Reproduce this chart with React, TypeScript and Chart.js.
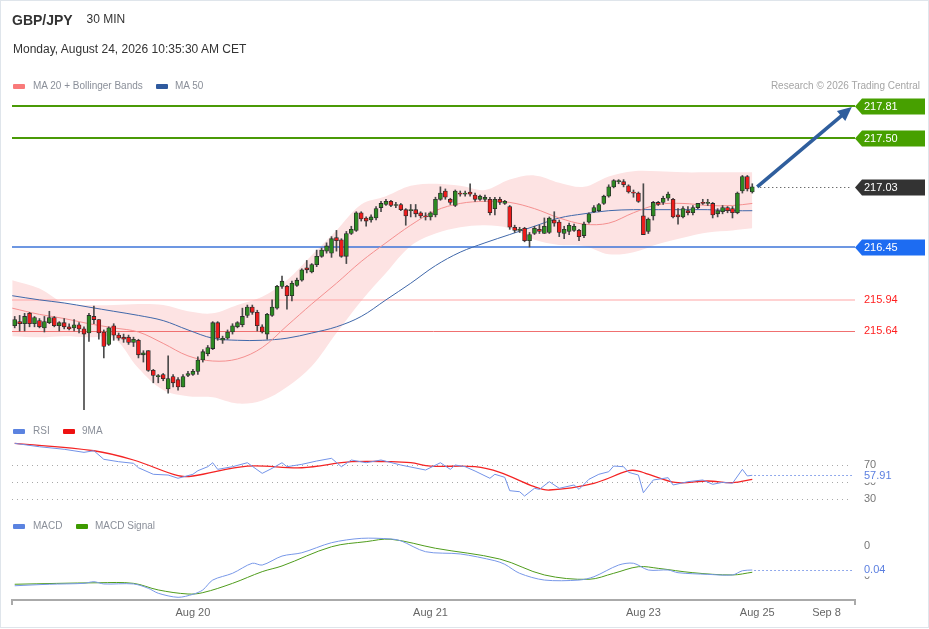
import React, { useEffect, useRef } from "react";
import { Chart, registerables } from "chart.js";

Chart.register(...registerables);

const FONT = '"Liberation Sans", Arial, Helvetica, sans-serif';

// ---------- DATA ----------
// candles: [open, high, low, close], 30-minute bars
const candles: number[][] = [
  [215.69, 215.78, 215.67, 215.75], [215.73, 215.79, 215.64, 215.71], [215.71, 215.81, 215.64, 215.78],
  [215.81, 215.82, 215.68, 215.71], [215.71, 215.78, 215.68, 215.77], [215.74, 215.76, 215.67, 215.68],
  [215.67, 215.78, 215.63, 215.73], [215.72, 215.83, 215.71, 215.77], [215.77, 215.78, 215.68, 215.69],
  [215.69, 215.73, 215.64, 215.72], [215.72, 215.76, 215.66, 215.68], [215.68, 215.71, 215.65, 215.66],
  [215.67, 215.75, 215.64, 215.70], [215.70, 215.72, 215.62, 215.66], [215.66, 215.68, 214.88, 215.61],
  [215.62, 215.81, 215.54, 215.79], [215.78, 215.88, 215.71, 215.75], [215.75, 215.75, 215.56, 215.62],
  [215.63, 215.65, 215.38, 215.49], [215.51, 215.68, 215.50, 215.67], [215.69, 215.71, 215.55, 215.60],
  [215.60, 215.62, 215.55, 215.57], [215.58, 215.61, 215.53, 215.56], [215.58, 215.60, 215.51, 215.53],
  [215.53, 215.58, 215.49, 215.56], [215.55, 215.56, 215.38, 215.41], [215.41, 215.45, 215.34, 215.43],
  [215.45, 215.45, 215.25, 215.26], [215.26, 215.27, 215.14, 215.21], [215.20, 215.22, 215.14, 215.21],
  [215.22, 215.23, 215.16, 215.18], [215.08, 215.40, 215.04, 215.18], [215.20, 215.22, 215.10, 215.14],
  [215.17, 215.19, 215.07, 215.10], [215.10, 215.22, 215.10, 215.20], [215.21, 215.25, 215.20, 215.23],
  [215.22, 215.27, 215.21, 215.25], [215.25, 215.39, 215.22, 215.36], [215.36, 215.46, 215.34, 215.44],
  [215.42, 215.50, 215.40, 215.48], [215.47, 215.73, 215.46, 215.72], [215.72, 215.73, 215.55, 215.57],
  [215.55, 215.59, 215.52, 215.57], [215.57, 215.65, 215.56, 215.63], [215.63, 215.71, 215.61, 215.69],
  [215.68, 215.73, 215.67, 215.72], [215.70, 215.86, 215.68, 215.78], [215.79, 215.89, 215.77, 215.87],
  [215.87, 215.89, 215.80, 215.82], [215.82, 215.84, 215.64, 215.69], [215.68, 215.70, 215.62, 215.63],
  [215.61, 215.81, 215.56, 215.80], [215.79, 215.94, 215.78, 215.87], [215.86, 216.08, 215.85, 216.07],
  [216.07, 216.17, 216.05, 216.12], [216.07, 216.08, 215.85, 215.98], [215.98, 216.12, 215.93, 216.10],
  [216.08, 216.15, 216.07, 216.13], [216.13, 216.24, 216.12, 216.23], [216.25, 216.32, 216.20, 216.23],
  [216.21, 216.29, 216.20, 216.28], [216.28, 216.42, 216.26, 216.36], [216.36, 216.44, 216.35, 216.42],
  [216.41, 216.49, 216.39, 216.46], [216.39, 216.55, 216.35, 216.53], [216.54, 216.61, 216.41, 216.51],
  [216.52, 216.53, 216.35, 216.36], [216.36, 216.60, 216.29, 216.58], [216.58, 216.65, 216.57, 216.62],
  [216.61, 216.79, 216.60, 216.78], [216.78, 216.79, 216.70, 216.72], [216.73, 216.74, 216.65, 216.70],
  [216.71, 216.76, 216.69, 216.74], [216.73, 216.84, 216.71, 216.82], [216.83, 216.89, 216.79, 216.87],
  [216.86, 216.91, 216.85, 216.89], [216.89, 216.90, 216.84, 216.85], [216.85, 216.88, 216.83, 216.86],
  [216.86, 216.87, 216.80, 216.81], [216.81, 216.82, 216.66, 216.75], [216.80, 216.86, 216.74, 216.81],
  [216.81, 216.86, 216.74, 216.77], [216.78, 216.79, 216.73, 216.75], [216.75, 216.78, 216.71, 216.74],
  [216.74, 216.79, 216.71, 216.78], [216.76, 216.93, 216.74, 216.91], [216.91, 217.03, 216.90, 216.97],
  [216.99, 217.01, 216.91, 216.93], [216.91, 216.92, 216.86, 216.88], [216.85, 217.00, 216.84, 216.99],
  [216.97, 216.99, 216.94, 216.96], [216.96, 216.99, 216.94, 216.97], [216.98, 217.06, 216.94, 216.96],
  [216.95, 216.97, 216.89, 216.91], [216.91, 216.95, 216.90, 216.94], [216.91, 216.95, 216.89, 216.93],
  [216.91, 216.93, 216.76, 216.78], [216.82, 216.93, 216.76, 216.91], [216.91, 216.93, 216.86, 216.88],
  [216.87, 216.90, 216.86, 216.89], [216.84, 216.85, 216.62, 216.64], [216.64, 216.66, 216.59, 216.61],
  [216.61, 216.64, 216.59, 216.62], [216.63, 216.64, 216.50, 216.51], [216.51, 216.59, 216.45, 216.57],
  [216.58, 216.65, 216.57, 216.63], [216.62, 216.66, 216.58, 216.60], [216.58, 216.73, 216.58, 216.65],
  [216.59, 216.74, 216.58, 216.73], [216.71, 216.79, 216.65, 216.68], [216.69, 216.71, 216.55, 216.59],
  [216.58, 216.65, 216.53, 216.62], [216.60, 216.68, 216.57, 216.66], [216.61, 216.67, 216.60, 216.65],
  [216.61, 216.62, 216.51, 216.55], [216.56, 216.69, 216.54, 216.67], [216.69, 216.78, 216.68, 216.77],
  [216.79, 216.85, 216.78, 216.83], [216.80, 216.87, 216.79, 216.86], [216.87, 216.95, 216.86, 216.94],
  [216.94, 217.05, 216.93, 217.03], [217.03, 217.10, 217.02, 217.09], [217.08, 217.10, 217.06, 217.09],
  [217.08, 217.10, 217.03, 217.05], [217.04, 217.05, 216.97, 216.98], [216.98, 217.00, 216.93, 216.97],
  [216.97, 216.98, 216.88, 216.89], [216.75, 217.06, 216.57, 216.57], [216.60, 216.73, 216.58, 216.72],
  [216.75, 216.89, 216.71, 216.88], [216.88, 216.89, 216.85, 216.86], [216.88, 216.94, 216.86, 216.92],
  [216.92, 216.98, 216.90, 216.96], [216.91, 216.92, 216.73, 216.74], [216.76, 216.82, 216.67, 216.74],
  [216.74, 216.84, 216.73, 216.82], [216.80, 216.84, 216.76, 216.78], [216.78, 216.85, 216.76, 216.83],
  [216.83, 216.87, 216.82, 216.87], [216.88, 216.91, 216.86, 216.87], [216.87, 216.91, 216.85, 216.88],
  [216.87, 216.88, 216.73, 216.76], [216.77, 216.82, 216.74, 216.80], [216.79, 216.85, 216.77, 216.83],
  [216.83, 216.84, 216.78, 216.80], [216.82, 216.84, 216.73, 216.78], [216.78, 216.98, 216.77, 216.97],
  [216.99, 217.14, 216.97, 217.13], [217.13, 217.14, 216.99, 217.01], [216.98, 217.06, 216.97, 217.03],
];

// indicator samples (bar index -> value)
const bandIdx = [-0.5, 5, 10, 15, 20, 25, 30, 35, 40, 45, 50, 55, 60, 65, 70, 75, 80, 85, 90, 95, 100, 105, 110, 115, 120, 125, 130, 135, 140, 145, 149];
const ma20 = [215.86, 215.80, 215.76, 215.71, 215.67, 215.63, 215.52, 215.40, 215.35, 215.37, 215.48, 215.69, 215.90, 216.10, 216.31, 216.49, 216.66, 216.80, 216.87, 216.89, 216.88, 216.82, 216.73, 216.67, 216.68, 216.78, 216.86, 216.87, 216.85, 216.85, 216.87];
const ma50 = [215.98, 215.94, 215.91, 215.87, 215.83, 215.79, 215.74, 215.65, 215.57, 215.55, 215.55, 215.57, 215.62, 215.68, 215.78, 215.94, 216.10, 216.27, 216.40, 216.49, 216.57, 216.65, 216.73, 216.77, 216.80, 216.81, 216.81, 216.81, 216.81, 216.80, 216.80];
const bbUpper = [216.13, 216.05, 215.91, 215.89, 215.89, 215.90, 215.89, 215.83, 215.81, 215.89, 215.97, 216.13, 216.37, 216.61, 216.86, 216.94, 217.04, 217.06, 217.04, 217.00, 217.10, 217.14, 217.07, 217.03, 217.13, 217.18, 217.18, 217.17, 217.17, 217.17, 217.17];
const bbLower = [215.59, 215.58, 215.59, 215.58, 215.57, 215.28, 215.07, 215.01, 215.00, 214.94, 214.97, 215.10, 215.30, 215.62, 215.93, 216.20, 216.46, 216.58, 216.64, 216.66, 216.63, 216.52, 216.47, 216.46, 216.38, 216.40, 216.48, 216.54, 216.59, 216.61, 216.63];

const rsiIdx = [0, 5, 10, 14, 16, 18, 21, 24, 25, 28, 31, 33, 36, 37, 39, 40, 41, 44, 47, 50, 52, 54, 55, 58, 61, 64, 66, 68, 71, 74, 78, 83, 86, 88, 89, 91, 93, 96, 97, 99, 100, 102, 103, 105, 106, 108, 110, 113, 114, 116, 118, 120, 121, 123, 124, 126, 127, 129, 132, 133, 136, 139, 141, 143, 145, 147, 148, 149];
const rsiVals = [95.5, 91.5, 88.5, 84.9, 86.8, 76.7, 73.9, 72.0, 66.8, 59.1, 58.2, 54.4, 59.1, 63.3, 68.0, 72.7, 64.9, 68.0, 72.7, 60.2, 66.1, 72.7, 68.0, 70.8, 74.7, 77.9, 68.0, 75.9, 72.7, 75.9, 70.0, 64.1, 72.7, 64.9, 70.0, 68.0, 62.9, 54.4, 59.1, 55.5, 39.8, 38.6, 33.5, 42.6, 41.4, 50.4, 42.6, 46.5, 41.4, 53.2, 59.1, 62.1, 68.8, 68.0, 61.4, 58.2, 37.4, 52.4, 55.1, 46.5, 50.4, 52.4, 47.3, 49.6, 48.5, 64.9, 57.1, 57.91];
const rsiMaIdx = [0, 16, 24, 33, 36, 47, 58, 68, 76, 80, 84, 93, 98, 105, 108, 117, 124, 126, 130, 134, 140, 145, 149];
const rsiMaVals = [95.5, 86.8, 75.9, 57.4, 57.1, 68.8, 66.8, 73.9, 73.9, 72.7, 68.8, 68.0, 61.4, 44.5, 40.6, 48.5, 63.3, 62.9, 55.1, 49.2, 51.2, 49.2, 53.2];
const rsiLevels = [70, 50, 30];

const macdIdx = [0, 7, 14, 16, 18, 24, 27, 29, 33, 36, 38, 40, 44, 48, 50, 54, 58, 64, 70, 76, 78, 83, 90, 97, 99, 102, 107, 114, 117, 122, 125, 128, 132, 134, 140, 145, 147, 149];
const macdVals = [-0.065, -0.055, -0.049, -0.038, -0.053, -0.053, -0.082, -0.115, -0.142, -0.122, -0.093, -0.027, 0.018, 0.085, 0.073, 0.133, 0.155, 0.222, 0.251, 0.247, 0.235, 0.162, 0.147, 0.102, 0.078, 0.018, -0.027, -0.027, -0.005, 0.073, 0.085, 0.040, 0.040, 0.022, 0.011, 0.007, 0.035, 0.04];
const signalIdx = [0, 17, 24, 29, 35, 38, 44, 50, 54, 64, 71, 76, 85, 98, 107, 116, 121, 126, 130, 137, 145, 149];
const signalVals = [-0.055, -0.045, -0.049, -0.093, -0.120, -0.111, -0.049, 0.029, 0.067, 0.195, 0.229, 0.245, 0.185, 0.113, 0.007, -0.022, 0.018, 0.062, 0.051, 0.022, 0.007, 0.025];
const macdTicks = [0.2, 0];

const levelValues = [217.81, 217.5, 217.03, 216.45, 215.94, 215.64];
const lastPrice = 217.03;
const lastRsi = 57.91;
const lastMacd = 0.04;

const xTickIdx = [36, 84, 127, 150, 164];
const xTickText = ["Aug 20", "Aug 21", "Aug 23", "Aug 25", "Sep 8"];

const arrowFrom = { x: 150.0, y: 217.03 };
const arrowTo = { x: 169.1, y: 217.80 };

// ---------- STYLE ----------
const GREEN_C = "#2d8a22";
const RED_C = "#ee1c1c";
const levelStyles = [
  { line: "#4a9a06", width: 2, tag: "#47a000", text: null as string | null },
  { line: "#4a9a06", width: 2, tag: "#47a000", text: null },
  { line: null as string | null, width: 1, tag: "#333333", text: null },
  { line: "#3d74d8", width: 1.3, tag: "#1d6cf2", text: null },
  { line: "#ffa5a5", width: 1.2, tag: null as string | null, text: "#ff1f1f" },
  { line: "#f07070", width: 1, tag: null, text: "#ff1f1f" },
];

function pts(idx: number[], vals: number[]) {
  return idx.map((x, k) => ({ x, y: vals[k] }));
}

function drawTag(ctx: CanvasRenderingContext2D, tipX: number, y: number, color: string, text: string) {
  const h = 16;
  const bx = tipX + 7;
  const right = 925;
  ctx.fillStyle = color;
  ctx.beginPath();
  ctx.moveTo(tipX, y);
  ctx.lineTo(bx, y - h / 2);
  ctx.lineTo(right, y - h / 2);
  ctx.lineTo(right, y + h / 2);
  ctx.lineTo(bx, y + h / 2);
  ctx.closePath();
  ctx.fill();
  ctx.fillStyle = "#ffffff";
  ctx.font = `11px ${FONT}`;
  ctx.textBaseline = "middle";
  ctx.textAlign = "left";
  ctx.fillText(text, 864, y + 0.5);
}

const overlayPlugin = {
  id: "overlay",
  beforeDatasetsDraw(chart: any) {
    const { ctx, chartArea: a, scales } = chart;
    const py = scales.yPrice;
    const ry = scales.yRsi;
    ctx.save();
    levelValues.forEach((v, k) => {
      const s = levelStyles[k];
      if (!s.line) return;
      let y = py.getPixelForValue(v);
      y = s.width % 2 === 1 ? Math.round(y) + 0.5 : Math.round(y);
      ctx.strokeStyle = s.line;
      ctx.lineWidth = s.width;
      ctx.beginPath();
      ctx.moveTo(a.left, y);
      ctx.lineTo(a.right, y);
      ctx.stroke();
    });
    ctx.setLineDash([1, 4]);
    ctx.strokeStyle = "#a8a8a8";
    ctx.lineWidth = 1;
    rsiLevels.forEach((v) => {
      const y = Math.round(ry.getPixelForValue(v)) + 0.5;
      ctx.beginPath();
      ctx.moveTo(a.left, y);
      ctx.lineTo(a.right - 3, y);
      ctx.stroke();
    });
    ctx.restore();
  },
  afterDatasetsDraw(chart: any) {
    const { ctx, chartArea: a, scales } = chart;
    const xs = scales.x;
    const py = scales.yPrice;
    const ry = scales.yRsi;
    const my = scales.yMacd;
    const lastX = xs.getPixelForValue(candles.length - 1);
    ctx.save();

    // last price dotted line
    ctx.setLineDash([1, 3]);
    ctx.lineWidth = 1;
    ctx.strokeStyle = "#333";
    let y = Math.round(py.getPixelForValue(lastPrice)) + 0.5;
    ctx.beginPath();
    ctx.moveTo(lastX + 8, y);
    ctx.lineTo(a.right - 3, y);
    ctx.stroke();
    ctx.setLineDash([]);

    // level tags / labels
    levelValues.forEach((v, k) => {
      const s = levelStyles[k];
      const yy = py.getPixelForValue(v);
      if (s.tag) drawTag(ctx, a.right, Math.round(yy) + 0.5, s.tag, v.toFixed(2));
      else if (s.text) {
        ctx.fillStyle = s.text;
        ctx.font = `11px ${FONT}`;
        ctx.textBaseline = "middle";
        ctx.textAlign = "left";
        ctx.fillText(v.toFixed(2), 864, yy + 0.5);
      }
    });

    // arrow
    const x1 = xs.getPixelForValue(arrowFrom.x), y1 = py.getPixelForValue(arrowFrom.y);
    const x2 = xs.getPixelForValue(arrowTo.x), y2 = py.getPixelForValue(arrowTo.y);
    const ang = Math.atan2(y2 - y1, x2 - x1);
    const hl = 14, hw = 6.5;
    const bxp = x2 - hl * Math.cos(ang), byp = y2 - hl * Math.sin(ang);
    ctx.strokeStyle = "#2f5e9d";
    ctx.fillStyle = "#2f5e9d";
    ctx.lineWidth = 3.6;
    ctx.lineCap = "butt";
    ctx.beginPath();
    ctx.moveTo(x1, y1);
    ctx.lineTo(bxp + 2 * Math.cos(ang), byp + 2 * Math.sin(ang));
    ctx.stroke();
    ctx.beginPath();
    ctx.moveTo(x2, y2);
    ctx.lineTo(bxp + hw * Math.sin(ang), byp - hw * Math.cos(ang));
    ctx.lineTo(bxp - hw * Math.sin(ang), byp + hw * Math.cos(ang));
    ctx.closePath();
    ctx.fill();

    ctx.font = `11px ${FONT}`;
    ctx.textBaseline = "middle";
    ctx.textAlign = "left";

    // RSI labels
    ctx.fillStyle = "#777";
    rsiLevels.forEach((v) => ctx.fillText(String(v), 864, ry.getPixelForValue(v)));
    ctx.setLineDash([1.5, 2.5]);
    ctx.lineWidth = 1.2;
    ctx.strokeStyle = "#6f8fe6";
    y = Math.round(ry.getPixelForValue(lastRsi)) + 0.5;
    ctx.beginPath();
    ctx.moveTo(lastX + 2, y);
    ctx.lineTo(a.right - 2, y);
    ctx.stroke();
    ctx.setLineDash([]);
    ctx.fillStyle = "#fff";
    ctx.fillRect(860, y - 7, 40, 14);
    ctx.fillStyle = "#5b7fe0";
    ctx.fillText(lastRsi.toFixed(2), 864, y);

    // MACD labels
    ctx.fillStyle = "#777";
    macdTicks.forEach((v) => ctx.fillText(String(Math.round(v)), 864, my.getPixelForValue(v)));
    ctx.setLineDash([1.5, 2.5]);
    ctx.strokeStyle = "#6f8fe6";
    y = Math.round(my.getPixelForValue(lastMacd)) + 0.5;
    ctx.beginPath();
    ctx.moveTo(lastX + 2, y);
    ctx.lineTo(a.right - 2, y);
    ctx.stroke();
    ctx.setLineDash([]);
    ctx.fillStyle = "#fff";
    ctx.fillRect(860, y - 8, 40, 14);
    ctx.fillStyle = "#5b7fe0";
    ctx.fillText(lastMacd.toFixed(2), 864, y - 1);

    // x axis
    const ay = a.bottom;
    ctx.strokeStyle = "#aaaaaa";
    ctx.lineWidth = 2;
    ctx.beginPath();
    ctx.moveTo(a.left, ay + 5);
    ctx.lineTo(a.left, ay);
    ctx.lineTo(a.right, ay);
    ctx.lineTo(a.right, ay + 5);
    ctx.stroke();
    ctx.fillStyle = "#666";
    ctx.textAlign = "center";
    ctx.font = `11px ${FONT}`;
    xTickIdx.forEach((i, k) => ctx.fillText(xTickText[k], xs.getPixelForValue(i), ay + 13));
    ctx.restore();
  },
};

const txt = (left: number, top: number, size: number, color: string, extra: any = {}) => ({
  position: "absolute" as const,
  left,
  top,
  fontSize: size,
  lineHeight: `${size}px`,
  color,
  whiteSpace: "nowrap" as const,
  fontFamily: FONT,
  ...extra,
});

const sw = (left: number, top: number, color: string) => ({
  position: "absolute" as const,
  left,
  top,
  width: 12,
  height: 5,
  background: color,
  borderRadius: 1,
});

export default function App() {
  const ref = useRef<HTMLCanvasElement | null>(null);
  useEffect(() => {
    if (!ref.current) return;
    const bodyColors = candles.map((c) => (c[3] >= c[0] ? GREEN_C : RED_C));
    const chart = new Chart(ref.current, {
      type: "bar",
      data: {
        datasets: [
          {
            type: "line",
            data: pts(bandIdx, bbUpper),
            yAxisID: "yPrice",
            borderWidth: 0,
            borderColor: "rgba(0,0,0,0)",
            backgroundColor: "#fde3e3",
            fill: "+1",
            pointRadius: 0,
            tension: 0.35,
            order: 5,
          } as any,
          {
            type: "line",
            data: pts(bandIdx, bbLower),
            yAxisID: "yPrice",
            borderWidth: 0,
            borderColor: "rgba(0,0,0,0)",
            fill: false,
            pointRadius: 0,
            tension: 0.35,
            order: 5,
          } as any,
          {
            type: "line",
            data: pts(bandIdx, ma20),
            yAxisID: "yPrice",
            borderColor: "#f59090",
            borderWidth: 1,
            pointRadius: 0,
            tension: 0.35,
            fill: false,
            order: 3,
          } as any,
          {
            type: "line",
            data: pts(bandIdx, ma50),
            yAxisID: "yPrice",
            borderColor: "#4068aa",
            borderWidth: 1,
            pointRadius: 0,
            tension: 0.35,
            fill: false,
            order: 3,
          } as any,
          {
            type: "bar",
            data: candles.map((c, i) => ({ x: i, y: [c[2], c[1]] })),
            yAxisID: "yPrice",
            backgroundColor: "#4a4a4a",
            barThickness: 1,
            grouped: false,
            order: 1,
          } as any,
          {
            type: "bar",
            data: candles.map((c, i) => ({ x: i, y: [c[0], c[3]] })),
            yAxisID: "yPrice",
            backgroundColor: bodyColors,
            borderColor: "#2b2b2b",
            borderWidth: 0.8,
            borderSkipped: false,
            barThickness: 4,
            minBarLength: 1,
            grouped: false,
            order: 0,
          } as any,
          {
            type: "line",
            data: pts(rsiIdx, rsiVals),
            yAxisID: "yRsi",
            borderColor: "#7393e8",
            borderWidth: 1,
            pointRadius: 0,
            tension: 0,
            fill: false,
            order: 2,
          } as any,
          {
            type: "line",
            data: pts(rsiMaIdx, rsiMaVals),
            yAxisID: "yRsi",
            borderColor: "#f42424",
            borderWidth: 1.3,
            pointRadius: 0,
            tension: 0.35,
            fill: false,
            order: 2,
          } as any,
          {
            type: "line",
            data: pts(macdIdx, macdVals),
            yAxisID: "yMacd",
            borderColor: "#7898e8",
            borderWidth: 1,
            pointRadius: 0,
            tension: 0.3,
            fill: false,
            order: 2,
          } as any,
          {
            type: "line",
            data: pts(signalIdx, signalVals),
            yAxisID: "yMacd",
            borderColor: "#4f9c1c",
            borderWidth: 1,
            pointRadius: 0,
            tension: 0.35,
            fill: false,
            order: 2,
          } as any,
        ],
      },
      options: {
        animation: false,
        responsive: false,
        events: [],
        layout: { padding: { left: 12, right: 74, top: 95, bottom: 29 } },
        plugins: {
          legend: { display: false },
          tooltip: { enabled: false },
          filler: { drawTime: "beforeDraw" },
        } as any,
        scales: {
          x: { type: "linear", axis: "x", min: -0.545, max: 169.75, display: false, offset: false },
          yPrice: { type: "linear", axis: "y", min: 213.045, max: 217.916, display: false },
          yRsi: { type: "linear", axis: "y", min: -88.8, max: 505.3, display: false },
          yMacd: { type: "linear", axis: "y", min: -0.16, max: 3.207, display: false },
        } as any,
      },
      plugins: [overlayPlugin],
    });
    return () => chart.destroy();
  }, []);

  return (
    <div style={{ position: "fixed", left: 0, top: 0, width: 929, height: 629, background: "#fff", overflow: "hidden" }}>
      <canvas ref={ref} width={929} height={629} style={{ position: "absolute", left: 0, top: 0, display: "block" }} />
      <div style={{ position: "absolute", left: 0, top: 0, width: 929, height: 628, border: "1px solid #dfe5eb", boxSizing: "border-box", pointerEvents: "none" }} />
      <div style={txt(12, 13, 14, "#333", { fontWeight: "bold" })}>GBP/JPY</div>
      <div style={txt(86.5, 13, 12, "#333")}>30 MIN</div>
      <div style={txt(13, 43, 12, "#333")}>Monday, August 24, 2026 10:35:30 AM CET</div>

      <div style={sw(13, 84, "#f97a7a")} />
      <div style={txt(33, 80.5, 10, "#8a8f99")}>MA 20 + Bollinger Bands</div>
      <div style={sw(155.5, 84, "#2f5a9e")} />
      <div style={txt(175, 80.5, 10, "#8a8f99")}>MA 50</div>
      <div style={txt(0, 80.5, 10, "#a5a5a5", { left: "auto", right: 9, textAlign: "right" })}>Research © 2026 Trading Central</div>

      <div style={sw(13, 429, "#5b83e0")} />
      <div style={txt(33, 425.5, 10, "#8a8f99")}>RSI</div>
      <div style={sw(62.5, 429, "#ee1111")} />
      <div style={txt(82, 425.5, 10, "#8a8f99")}>9MA</div>

      <div style={sw(13, 523.5, "#5b83e0")} />
      <div style={txt(33, 520.5, 10, "#8a8f99")}>MACD</div>
      <div style={sw(76, 523.5, "#3d9a00")} />
      <div style={txt(95, 520.5, 10, "#8a8f99")}>MACD Signal</div>
    </div>
  );
}
